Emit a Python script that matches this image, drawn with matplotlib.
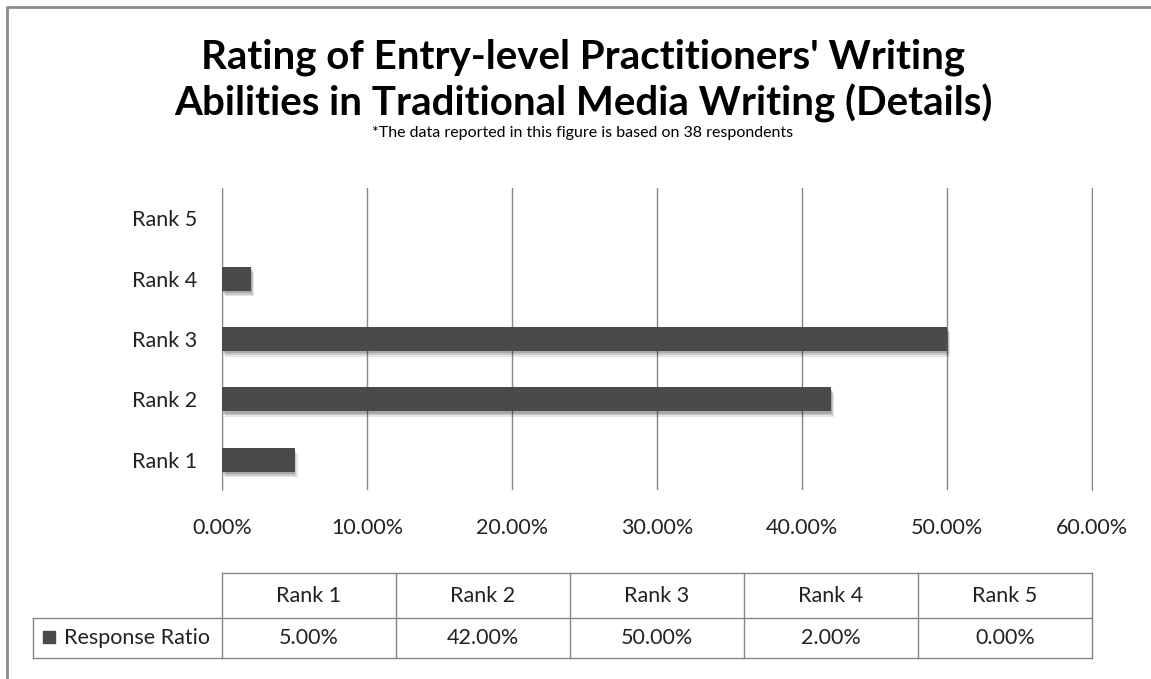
import matplotlib
matplotlib.use("Agg")
import matplotlib.pyplot as plt
import numpy as np

# Survey results
categories = ["Rank 1", "Rank 2", "Rank 3", "Rank 4", "Rank 5"]
response_ratio = [5.0, 42.0, 50.0, 2.0, 0.0]
x_ticks = [0, 10, 20, 30, 40, 50, 60]
series_name = "Response Ratio"
title = "Rating of Entry-level Practitioners' Writing\nAbilities in Traditional Media Writing (Details)"
subtitle = "*The data reported in this figure is based on 38 respondents"

W, H = 1151, 679
FONT = "Lato"
GRID = "#868686"
BAR = "#4a4a4a"
TXT = "#222222"
FS = 15.5

fig = plt.figure(figsize=(W / 100, H / 100), dpi=100)
fig.patch.set_facecolor("white")

# ── Plot area (pixel-aligned) ─────────────────────────────────────
px_left, px_right, px_top, px_bottom = 222, 1092, 188, 490
ax = fig.add_axes([px_left / W, 1 - px_bottom / H,
                   (px_right - px_left) / W, (px_bottom - px_top) / H])
ax.set_xlim(0, 60)
ax.set_ylim(-0.5, len(categories) - 0.5)
y = np.arange(len(categories))

# soft drop shadow (a few faint layers), then the bars
for k, a in enumerate([0.10, 0.12, 0.16]):
    off = 0.09 - k * 0.025
    ax.barh(y - off, response_ratio, height=0.4, left=0.05 + 0.08 * (2 - k),
            color="black", alpha=a, linewidth=0, zorder=2)
ax.barh(y, response_ratio, height=0.4, color=BAR, linewidth=0, zorder=3)

ax.set_xticks(x_ticks)
ax.set_xticklabels([f"{t:.2f}%" for t in x_ticks], fontsize=FS, family=FONT, color=TXT)
ax.set_yticks(y)
ax.set_yticklabels(categories, fontsize=FS, family=FONT, color=TXT)
ax.tick_params(length=0)
ax.tick_params(axis="y", pad=18)
ax.tick_params(axis="x", pad=20)
ax.grid(axis="x", color=GRID, linewidth=1, zorder=1)
for side in ["top", "bottom"]:
    ax.spines[side].set_visible(False)
ax.spines["left"].set_color(GRID)
ax.spines["right"].set_color(GRID)

# ── Overlay in pixel coordinates: frame, titles, data table ──────
ov = fig.add_axes([0, 0, 1, 1], facecolor="none")
ov.set_xlim(0, W)
ov.set_ylim(H, 0)
ov.axis("off")

ov.plot([7, 7, W + 5], [H + 5, 7, 7], color="#8c8c8c", linewidth=2)

ov.text(583, 57, title.split("\n")[0], ha="center", va="center", fontsize=29,
        fontweight="bold", family=FONT, color="black")
ov.text(583, 103, title.split("\n")[1], ha="center", va="center", fontsize=29,
        fontweight="bold", family=FONT, color="black")
ov.text(583, 133, subtitle, ha="center", va="center", fontsize=11.5, family=FONT, color="black")

col_edges = np.linspace(px_left, px_right, len(categories) + 1)
row_top, row_mid, row_bot = 573, 618, 658
label_left = 33
line_kw = dict(color=GRID, linewidth=1)

ov.plot([px_left, px_right], [row_top, row_top], **line_kw)
ov.plot([label_left, px_right], [row_mid, row_mid], **line_kw)
ov.plot([label_left, px_right], [row_bot, row_bot], **line_kw)
ov.plot([label_left, label_left], [row_mid, row_bot], **line_kw)
for xe in col_edges:
    ov.plot([xe, xe], [row_top, row_bot], **line_kw)

for i, (cat, val) in enumerate(zip(categories, response_ratio)):
    cx = (col_edges[i] + col_edges[i + 1]) / 2
    ov.text(cx, (row_top + row_mid) / 2, cat, ha="center", va="center",
            fontsize=FS, family=FONT, color=TXT)
    ov.text(cx, (row_mid + row_bot) / 2, f"{val:.2f}%", ha="center", va="center",
            fontsize=FS, family=FONT, color=TXT)

ov.add_patch(plt.Rectangle((43, 631), 12, 12, color=BAR))
ov.text(64, (row_mid + row_bot) / 2, series_name, ha="left", va="center",
        fontsize=FS, family=FONT, color=TXT)

fig.savefig("out.png", dpi=100, facecolor="white")
